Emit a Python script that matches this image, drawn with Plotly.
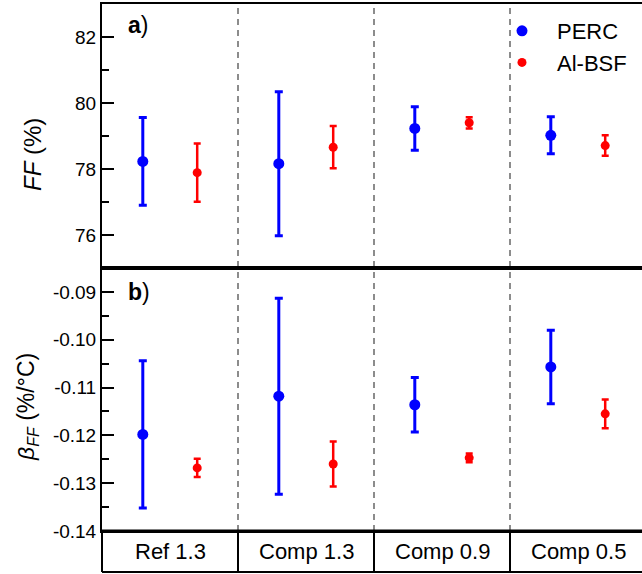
import numpy as np
import plotly.graph_objects as go

# ---------------- data ----------------
categories = ["Ref 1.3", "Comp 1.3", "Comp 0.9", "Comp 0.5"]
series_names = ["PERC", "Al-BSF"]

ff_perc = [78.23, 78.16, 79.23, 79.02]
ff_perc_err = [1.33, 2.18, 0.66, 0.56]
ff_albsf = [77.89, 78.66, 79.40, 78.71]
ff_albsf_err = [0.88, 0.64, 0.17, 0.31]

beta_perc = [-0.1198, -0.1118, -0.1136, -0.1057]
beta_perc_err = [0.0154, 0.0205, 0.0057, 0.0077]
beta_albsf = [-0.1268, -0.1260, -0.1247, -0.1155]
beta_albsf_err = [0.0019, 0.0047, 0.0009, 0.0030]

ff_ticks = [76, 78, 80, 82]
beta_ticks = [-0.14, -0.13, -0.12, -0.11, -0.10, -0.09]
beta_ticktext = ["-0.14", "-0.13", "-0.12", "-0.11", "-0.10", "-0.09"]

# ---------------- style ----------------
FONT = "Liberation Sans, Arial, sans-serif"
BLUE = "#0000ff"
RED = "#ff0000"
W, H = 642, 574
ML, MR, MT, MB = 102, 0, 4, 2
ph = H - MT - MB
pw = W - ML - MR
cat_w_px = 136.0
y_row = 41.0 / ph          # category row height (paper)
y_mid = (41.0 + 263.0) / ph  # split between panels

idx = np.arange(len(categories))
off = 0.2
xr = [-0.5, -0.5 + pw / cat_w_px]

fig = go.Figure()


def add_series(x, y, err, color, size, lw, cw, name, xa, ya, show):
    fig.add_trace(go.Scatter(
        x=x, y=y, mode="markers", name=name, showlegend=show,
        xaxis=xa, yaxis=ya,
        marker=dict(color=color, size=size),
        error_y=dict(type="data", array=err, visible=True, color=color,
                     thickness=lw, width=cw),
    ))


add_series(idx - off, ff_perc, ff_perc_err, BLUE, 11, 3, 4, series_names[0], "x2", "y", True)
add_series(idx + off, ff_albsf, ff_albsf_err, RED, 9, 2.5, 3.5, series_names[1], "x2", "y", True)
add_series(idx - off, beta_perc, beta_perc_err, BLUE, 11, 3, 4, series_names[0], "x", "y2", False)
add_series(idx + off, beta_albsf, beta_albsf_err, RED, 9, 2.5, 3.5, series_names[1], "x", "y2", False)

xcommon = dict(range=xr, showticklabels=False, ticks="", showgrid=False,
               zeroline=False, showline=True, mirror=True, linewidth=2,
               linecolor="black", automargin=False)
ycommon = dict(showgrid=False, zeroline=False, ticks="inside", ticklen=12,
               tickwidth=2, tickcolor="black", showline=True, linewidth=2,
               linecolor="black", automargin=False,
               tickfont=dict(family=FONT, size=19, color="black"))
yright = dict(showticklabels=False, showline=False, showgrid=False,
              zeroline=False, ticks="inside", ticklen=12, tickwidth=2,
              tickcolor="black", automargin=False)

fig.update_layout(
    width=W, height=H, autosize=False,
    margin=dict(l=ML, r=MR, t=MT, b=MB, autoexpand=False),
    paper_bgcolor="white", plot_bgcolor="white",
    font=dict(family=FONT, size=19, color="black"),
    xaxis=dict(domain=[0, 1], anchor="y2", **xcommon),
    xaxis2=dict(domain=[0, 1], anchor="y", matches="x", **xcommon),
    yaxis=dict(domain=[y_mid, 1], anchor="x2", range=[75, 83],
               tickvals=ff_ticks,
               minor=dict(ticks="inside", ticklen=7, tickwidth=2,
                          tickcolor="black", dtick=1, tick0=75),
               **ycommon),
    yaxis2=dict(domain=[y_row, y_mid], anchor="x", range=[-0.14, -0.085],
                tickvals=beta_ticks, ticktext=beta_ticktext,
                minor=dict(ticks="inside", ticklen=7, tickwidth=2,
                           tickcolor="black", dtick=0.005, tick0=-0.14),
                **ycommon),
    yaxis3=dict(overlaying="y", side="right", anchor="x2", range=[75, 83],
                tickvals=ff_ticks,
                minor=dict(ticks="inside", ticklen=7, tickwidth=2,
                           tickcolor="black", dtick=1, tick0=75),
                **yright),
    yaxis4=dict(overlaying="y2", side="right", anchor="x", range=[-0.14, -0.085],
                tickvals=beta_ticks,
                minor=dict(ticks="inside", ticklen=7, tickwidth=2,
                           tickcolor="black", dtick=0.005, tick0=-0.14),
                **yright),
    legend=dict(x=(487 - ML) / pw, y=1 - (10 - MT) / ph, xanchor="left",
                yanchor="top", bgcolor="rgba(0,0,0,0)",
                font=dict(family=FONT, size=22, color="black"),
                tracegroupgap=0, itemwidth=60),
    showlegend=True,
)

shapes = []
for i in range(len(categories) - 1):
    xb = i + 0.5
    shapes.append(dict(type="line", xref="x", yref="paper", x0=xb, x1=xb,
                       y0=y_row, y1=1, layer="below",
                       line=dict(color="#8c8c8c", width=2, dash="6px,5px")))
    shapes.append(dict(type="line", xref="x", yref="paper", x0=xb, x1=xb,
                       y0=0, y1=y_row, line=dict(color="black", width=2)))
# category row border
shapes.append(dict(type="line", xref="paper", yref="paper", x0=0, x1=0,
                   y0=0, y1=y_row, line=dict(color="black", width=2)))
shapes.append(dict(type="line", xref="paper", yref="paper", x0=0, x1=1,
                   y0=0, y1=0, line=dict(color="black", width=2)))
shapes.append(dict(type="line", xref="paper", yref="paper", x0=0, x1=1,
                   y0=y_row, y1=y_row, line=dict(color="black", width=3)))
fig.update_layout(shapes=shapes)

annotations = []
for i, c in enumerate(categories):
    annotations.append(dict(x=i, y=y_row / 2, xref="x", yref="paper",
                            text=c, showarrow=False,
                            font=dict(family=FONT, size=22, color="black"),
                            xanchor="center", yanchor="middle"))
annotations.append(dict(x=(126 - ML) / pw, y=1 - (25 - MT) / ph, xref="paper",
                        yref="paper", text="<b>a</b>)", showarrow=False,
                        xanchor="left", yanchor="middle",
                        font=dict(family=FONT, size=23, color="black")))
annotations.append(dict(x=(126 - ML) / pw, y=1 - (292 - MT) / ph, xref="paper",
                        yref="paper", text="<b>b</b>)", showarrow=False,
                        xanchor="left", yanchor="middle",
                        font=dict(family=FONT, size=23, color="black")))
annotations.append(dict(x=(32 - ML) / pw, y=1 - (155 - MT) / ph, xref="paper",
                        yref="paper", text="<i>FF</i> (%)", showarrow=False,
                        textangle=-90, xanchor="center", yanchor="middle",
                        font=dict(family=FONT, size=24, color="black")))
annotations.append(dict(x=(27 - ML) / pw, y=1 - (407 - MT) / ph, xref="paper",
                        yref="paper", text="<i>β</i><sub><i>FF</i></sub> (%/°C)",
                        showarrow=False, textangle=-90, xanchor="center",
                        yanchor="middle",
                        font=dict(family=FONT, size=23, color="black")))
fig.update_layout(annotations=annotations)

fig.write_html(
    "out.html",
    config={"displayModeBar": False, "responsive": False},
    post_script="document.body.style.margin='0';document.body.style.overflow='hidden';",
)
